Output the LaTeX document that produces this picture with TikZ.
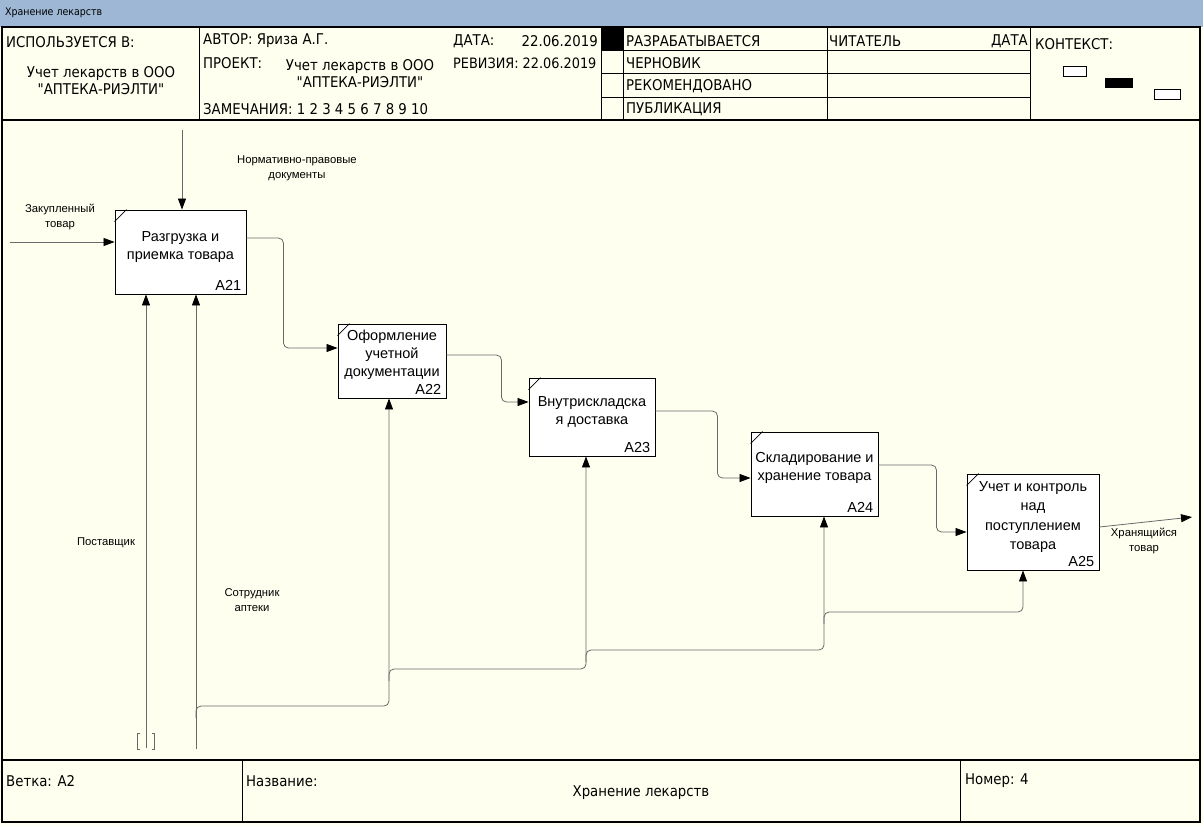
\documentclass[tikz,border=0pt]{standalone}
\usepackage{fontspec}
\setmainfont{Liberation Sans}
\newfontfamily\tah{DejaVu Sans Condensed}
\usetikzlibrary{arrows.meta,calc}
\definecolor{bgc}{RGB}{255,255,240}
\definecolor{barc}{RGB}{157,183,212}
\definecolor{cn}{RGB}{105,105,105}
\begin{document}
\begin{tikzpicture}[x=1pt,y=-1pt,
  hdr/.style={font=\tah\fontsize{14.8}{17}\selectfont, inner sep=0pt},
  boxtxt/.style={font=\fontsize{14.5}{18}\selectfont, align=center, inner sep=0pt},
  idtxt/.style={font=\fontsize{14.5}{18}\selectfont, inner sep=0pt, anchor=base east},
  lbl/.style={font=\fontsize{11.3}{15}\selectfont, align=center, inner sep=0pt},
  fn/.style={draw=black, fill=white, line width=0.9pt, inner sep=0pt},
  conn/.style={draw=cn, line width=0.8pt, rounded corners=5pt},
  arr/.style={conn, -{Triangle[length=11pt,width=8pt,color=black]}},
  frm/.style={draw=black, line width=1.3pt},
  thin/.style={draw=black, line width=0.9pt}]
\useasboundingbox (0,0) rectangle (1203,825);
% backgrounds
\fill[bgc] (0,0) rectangle (1203,825);
\fill[barc] (0,0) rectangle (1203,27);
\node[anchor=west, inner sep=0pt, font=\tah\fontsize{10.5}{13}\selectfont] (title) at (5,13) {Хранение лекарств};
% frame
\draw[frm] (2,27) rectangle (1200,822);
\draw[frm] (2,120) -- (1200,120);
\draw[frm] (2,760) -- (1200,760);
\draw[thin] (199,27) -- (199,120);
\draw[thin] (601,27) -- (601,120);
\draw[thin] (623,27) -- (623,120);
\draw[thin] (827,27) -- (827,120);
\draw[thin] (1030,27) -- (1030,120);
\draw[thin] (601,50) -- (1030,50);
\draw[thin] (601,73) -- (1030,73);
\draw[thin] (601,97) -- (1030,97);
\fill[black] (601,27) rectangle (623,50);
\draw[thin] (242,760) -- (242,822);
\draw[thin] (960,760) -- (960,822);
% header texts
\node[hdr, anchor=west] (used) at (6,42) {ИСПОЛЬЗУЕТСЯ В:};
\node[hdr, align=center] (usedv) at (101,80.5) {Учет лекарств в ООО\\"АПТЕКА-РИЭЛТИ"};
\node[hdr, anchor=west] (author) at (203,41) {АВТОР: Яриза А.Г.};
\node[hdr, anchor=west] (date) at (453,41) {ДАТА:};
\node[hdr, anchor=east] (datev) at (598,41) {22.06.2019};
\node[hdr, anchor=west] (proj) at (203,63) {ПРОЕКТ:};
\node[hdr, align=center] (projv) at (360,73.5) {Учет лекарств в ООО\\"АПТЕКА-РИЭЛТИ"};
\node[hdr, anchor=west, font=\tah\fontsize{14.3}{17}\selectfont] (rev) at (453,63) {РЕВИЗИЯ: 22.06.2019};
\node[hdr, anchor=west] (notes) at (203,109) {ЗАМЕЧАНИЯ: 1 2 3 4 5 6 7 8 9 10};
\node[hdr, anchor=west] (st1) at (626,41) {РАЗРАБАТЫВАЕТСЯ};
\node[hdr, anchor=west] (reader) at (829,41) {ЧИТАТЕЛЬ};
\node[hdr, anchor=east] (rdate) at (1028,41) {ДАТА};
\node[hdr, anchor=west] (st2) at (626,63) {ЧЕРНОВИК};
\node[hdr, anchor=west] (st3) at (626,86) {РЕКОМЕНДОВАНО};
\node[hdr, anchor=west] (st4) at (626,109) {ПУБЛИКАЦИЯ};
\node[hdr, anchor=west] (ctx) at (1035,44) {КОНТЕКСТ:};
\draw[black, line width=0.8pt, fill=white] (1063,66) rectangle (1086,76);
\fill[black] (1105,78) rectangle (1133,88);
\draw[black, line width=0.8pt, fill=white] (1154,89) rectangle (1180,99);
% footer texts
\node[hdr, anchor=west] (branch) at (6,781) {Ветка: A2};
\node[hdr, anchor=west] (name) at (246,781) {Название:};
\node[hdr] (namev) at (641,793) {Хранение лекарств};
\node[hdr, anchor=west] (num) at (965,781) {Номер: 4};
% boxes
\node[fn, minimum width=131pt, minimum height=84pt] (A21) at (180.5,252) {};
\node[fn, minimum width=108pt, minimum height=74pt] (A22) at (392,361) {};
\node[fn, minimum width=126pt, minimum height=78pt] (A23) at (592,417) {};
\node[fn, minimum width=127pt, minimum height=84pt] (A24) at (814.5,474) {};
\node[fn, minimum width=132pt, minimum height=96pt] (A25) at (1033,522) {};
\foreach \b in {A21,A22,A23,A24,A25}{
  \draw[black, line width=0.7pt] ([yshift=-12pt]\b.north west) -- ([xshift=12pt]\b.north west);
  \node[idtxt] at ([xshift=-5pt,yshift=4pt]\b.south east) {\b};
}
\node[boxtxt] (t21) at (180.5,247) {Разгрузка и\\приемка товара};
\node[boxtxt] (t22) at (392,354.5) {Оформление\\учетной\\документации};
\node[boxtxt] (t23) at (592,411.5) {Внутрискладска\\я доставка};
\node[boxtxt] (t24) at (814.5,468) {Складирование и\\хранение товара};
\node[boxtxt, font=\fontsize{14.5}{19.3}\selectfont] (t25) at (1033,517) {Учет и контроль\\над\\поступлением\\товара};
% labels
\node[lbl] (lc) at (297,168.5) {Нормативно-правовые\\документы};
\node[lbl] (li) at (60,216.5) {Закупленный\\товар};
\node[lbl] (lm1) at (106,543) {Поставщик};
\node[lbl] (lm2) at (252,600.5) {Сотрудник\\аптеки};
\node[lbl] (lo) at (1144,541) {Хранящийся\\товар};
% free ends
\coordinate (cin) at (182,130);
\coordinate (iin) at (10,242);
\coordinate (oout) at (1192,517);
\coordinate (m1) at (146,748);
\coordinate (m2) at (196,749);
% control & input & output
\draw[arr] (cin) -- (cin |- A21.north);
\draw[arr] (iin) -- (iin -| A21.west);
\draw[arr] ([yshift=-5pt]A25.east) -- (oout);
% flows between boxes
\draw[arr] ([yshift=14pt]A21.east) -- ++(37,0) |- ([yshift=13pt]A22.west);
\draw[arr] ([yshift=6pt]A22.east) -- ++(55,0) |- ([yshift=15pt]A23.west);
\draw[arr] ([yshift=6pt]A23.east) -- ++(62,0) |- ([yshift=-4pt]A24.west);
\draw[arr] ([yshift=9pt]A24.east) -- ++(58,0) |- ([yshift=-10pt]A25.west);
% mechanisms
\draw[arr] (m1) -- (m1 |- A21.south);
\draw[arr] (m2) -- (m2 |- A21.south);
\draw[cn, line width=0.7pt] (140,733) -- (137.5,733) -- (137.5,749) -- (140,749);
\draw[cn, line width=0.7pt] (152,733) -- (154.5,733) -- (154.5,749) -- (152,749);
\coordinate (j1) at (196,706);
\coordinate (j2) at (389,669);
\coordinate (j3) at (586,650);
\coordinate (j4) at (824,612);
\draw[arr] ([yshift=-12pt]j1) -- (j1) -| ([xshift=-3pt]A22.south);
\draw[arr] ([yshift=-12pt]j2) -- (j2) -| ([xshift=-6pt]A23.south);
\draw[arr] ([yshift=-12pt]j3) -- (j3) -| ([xshift=9.5pt]A24.south);
\draw[arr] ([yshift=-12pt]j4) -- (j4) -| ([xshift=-10pt]A25.south);
\end{tikzpicture}
\end{document}
